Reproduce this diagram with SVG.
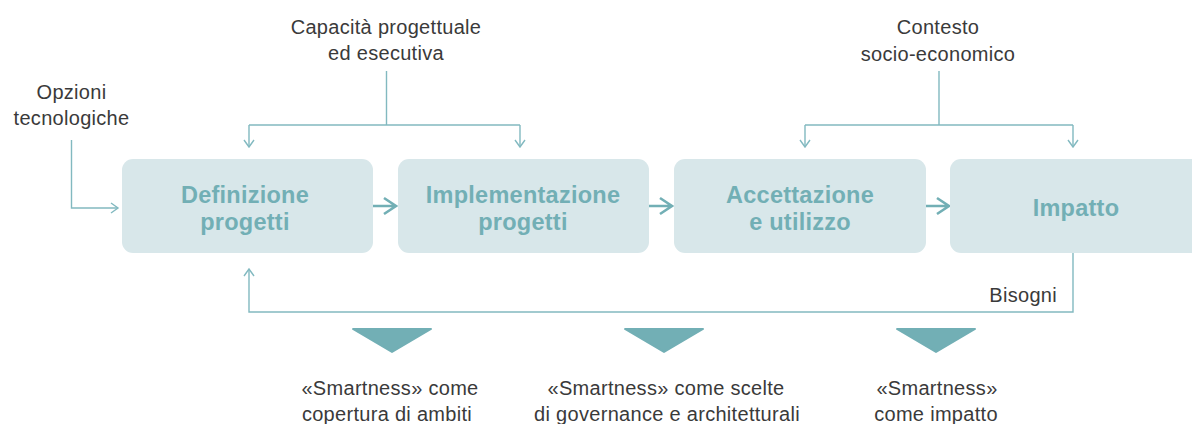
<svg xmlns="http://www.w3.org/2000/svg" width="1192" height="424" viewBox="0 0 1192 424">
<defs>
<style>
.box{fill:#d8e7ea}
.bt{font-family:"Liberation Sans",Arial,sans-serif;font-weight:bold;font-size:23.5px;fill:#72afb5;text-anchor:middle;letter-spacing:0.25px}
.lbl{font-family:"Liberation Sans",Arial,sans-serif;font-size:20px;fill:#3a3a3a;text-anchor:middle;letter-spacing:0.3px}
.thin{fill:none;stroke:#82b9c0;stroke-width:1.4}
.thick{fill:none;stroke:#72afb5;stroke-width:2.6}
.tri{fill:#72afb5;stroke:#72afb5;stroke-width:2;stroke-linejoin:round}
</style>
</defs>
<rect width="1192" height="424" fill="#ffffff"/>

<g id="labels">
<text class="lbl" x="386" y="34">Capacità progettuale</text>
<text class="lbl" x="386" y="60">ed esecutiva</text>
<text class="lbl" x="71.5" y="99">Opzioni</text>
<text class="lbl" x="71.5" y="125">tecnologiche</text>
<text class="lbl" x="938" y="34">Contesto</text>
<text class="lbl" x="938" y="61">socio-economico</text>
<text class="lbl" x="1057" y="302" style="text-anchor:end">Bisogni</text>
</g>

<g id="connectors">
<!-- Capacità -->
<path class="thin" d="M386.5,71 V125 M249,125 H520 M249,125 V147 M520,125 V147"/>
<path class="thin" d="M244,140 L249,147 L254,140 M515,140 L520,147 L525,140"/>
<!-- Contesto -->
<path class="thin" d="M939,71 V125 M805,125 H1073 M805,125 V147 M1073,125 V147"/>
<path class="thin" d="M800,140 L805,147 L810,140 M1068,140 L1073,147 L1078,140"/>
<!-- Opzioni -->
<path class="thin" d="M71.5,140 V208 H118"/>
<path class="thin" d="M111,203 L118,208 L111,213"/>
<!-- Bisogni feedback -->
<path class="thin" d="M1073,253 V312 H249 V269"/>
<path class="thin" d="M244,276 L249,269 L254,276"/>
<!-- box to box -->
<path class="thick" d="M373,206 H396 M384,198 L396,206 L384,214"/>
<path class="thick" d="M649,206 H672 M660,198 L672,206 L660,214"/>
<path class="thick" d="M926,206 H949 M937,198 L949,206 L937,214"/>
</g>

<g id="node-definizione">
<rect class="box" x="122" y="159" width="251" height="94" rx="11"/>
<text class="bt" x="245" y="203">Definizione</text>
<text class="bt" x="245" y="230">progetti</text>
</g>
<g id="node-implementazione">
<rect class="box" x="398" y="159" width="251" height="94" rx="11"/>
<text class="bt" x="523" y="203">Implementazione</text>
<text class="bt" x="523" y="230">progetti</text>
</g>
<g id="node-accettazione">
<rect class="box" x="674" y="159" width="252" height="94" rx="11"/>
<text class="bt" x="800" y="203">Accettazione</text>
<text class="bt" x="800" y="230">e utilizzo</text>
</g>
<g id="node-impatto">
<rect class="box" x="950" y="159" width="260" height="94" rx="11"/>
<text class="bt" x="1076" y="216">Impatto</text>
</g>

<g id="smartness-1">
<path class="tri" d="M353,329 H431 L392,352 Z"/>
<text class="lbl" x="390" y="395">«Smartness» come</text>
<text class="lbl" x="387" y="421">copertura di ambiti</text>
</g>
<g id="smartness-2">
<path class="tri" d="M625,329 H703 L664,352 Z"/>
<text class="lbl" x="666" y="395">«Smartness» come scelte</text>
<text class="lbl" x="667" y="421">di governance e architetturali</text>
</g>
<g id="smartness-3">
<path class="tri" d="M897,329 H975 L936,352 Z"/>
<text class="lbl" x="937" y="395">«Smartness»</text>
<text class="lbl" x="936" y="421">come impatto</text>
</g>
</svg>
